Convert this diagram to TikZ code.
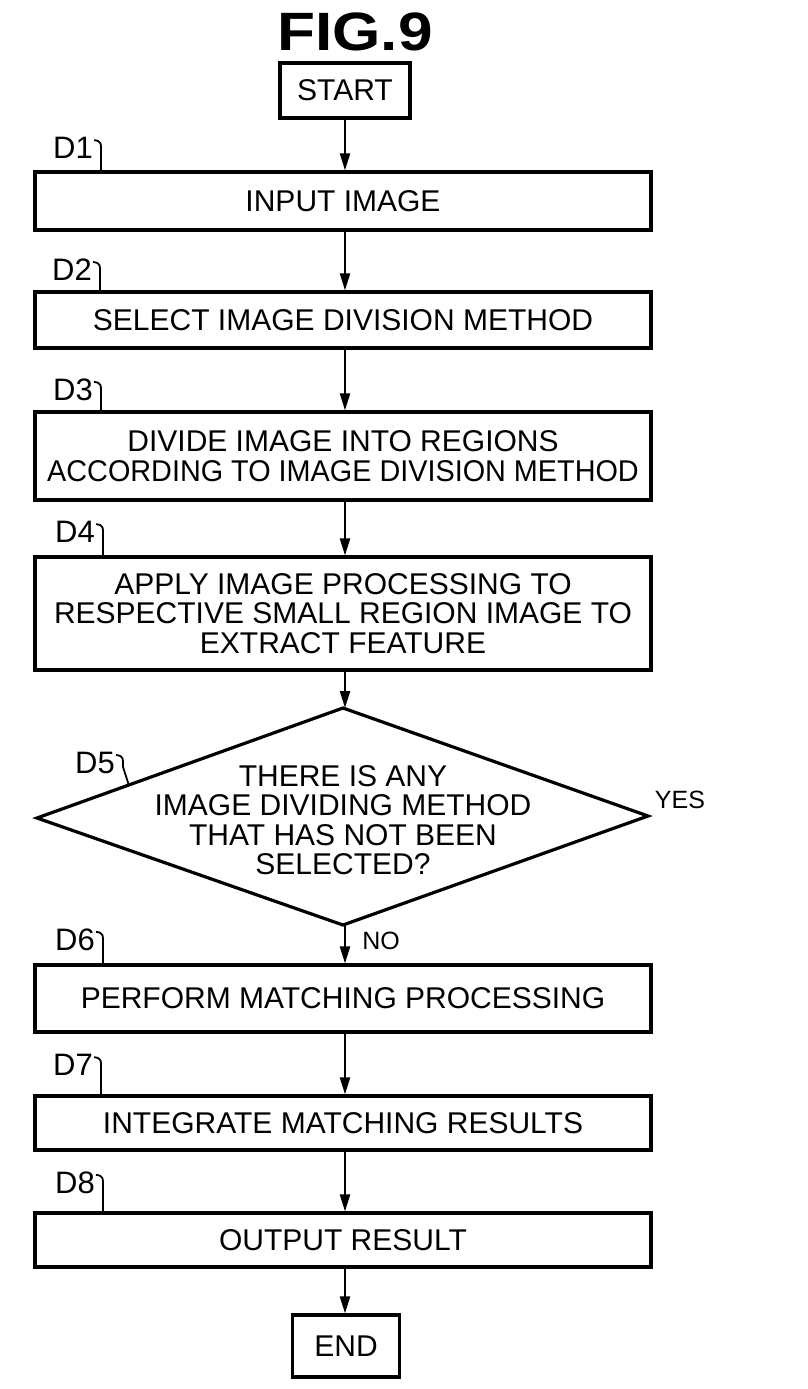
\documentclass[tikz,border=0pt]{standalone}
\usepackage{fontspec}
\setmainfont{Liberation Sans}
\usetikzlibrary{arrows.meta,calc}
\newcommand\dleader[2]{\draw[hook] ([xshift=1pt,yshift=-3pt]#1.north east) .. controls +(8pt,-1pt) and +(0pt,8pt) .. ([xshift=8pt,yshift=-4pt]#1.east) -- #2;}
\begin{document}
\begin{tikzpicture}[x=1pt,y=-1pt,
  box/.style={draw, line width=3.2pt, minimum width=616pt, inner sep=0pt, align=center, font=\fontsize{30}{29.5}\selectfont},
  term/.style={draw, line width=3.2pt, inner sep=0pt, font=\fontsize{30}{30}\selectfont},
  lbl/.style={anchor=west, inner sep=0pt, font=\fontsize{31}{31}\selectfont},
  flow/.style={line width=2.2pt, -{Triangle[length=17pt,width=10pt]}},
  hook/.style={line width=1.8pt},
  txt/.style={inner sep=0pt, align=center, font=\fontsize{30}{29.5}\selectfont},
  small/.style={inner sep=0pt, font=\fontsize{25}{25}\selectfont}]
\useasboundingbox (0,0) rectangle (807,1389);

\node[inner sep=0pt, font=\bfseries\fontsize{54}{54}\selectfont] (title) at (355,32) {\scalebox{1.15}[1]{FIG.9}};

\node[term, minimum width=130pt, minimum height=55pt] (start) at (345,90.5) {START};
\node[box, minimum height=58pt] (b1) at (343,201) {INPUT IMAGE};
\node[box, minimum height=56pt] (b2) at (343,320) {SELECT IMAGE DIVISION METHOD};
\node[box, minimum height=88pt] (b3) at (343,456) {DIVIDE IMAGE INTO REGIONS\\\scalebox{0.96}[1]{ACCORDING TO IMAGE DIVISION METHOD}};
\node[box, minimum height=113pt] (b4) at (343,613.5) {APPLY IMAGE PROCESSING TO\\RESPECTIVE SMALL REGION IMAGE TO\\EXTRACT FEATURE};

\coordinate (d5t) at (343,708);
\coordinate (d5l) at (37,818);
\coordinate (d5r) at (648,816);
\coordinate (d5b) at (343,925);
\draw[line width=3.2pt, line join=miter] (d5t) -- (d5r) -- (d5b) -- (d5l) -- cycle;
\node[txt] (d5) at (343,820) {THERE IS ANY\\IMAGE DIVIDING METHOD\\THAT HAS NOT BEEN\\SELECTED?};
\coordinate (h5) at ($(d5l)!0.3!(d5t)$);

\node[box, minimum height=67pt] (b6) at (343,998.5) {PERFORM MATCHING PROCESSING};
\node[box, minimum height=54pt] (b7) at (343,1123) {INTEGRATE MATCHING RESULTS};
\node[box, minimum height=54pt] (b8) at (343,1240) {OUTPUT RESULT};
\node[term, minimum width=107pt, minimum height=62pt] (end) at (346,1346) {END};

\node[small] (yes) at (680,800) {YES};
\node[small] (no) at (381,941) {NO};

\node[lbl] (l1) at (53,148) {D1};
\node[lbl] (l2) at (52,270) {D2};
\node[lbl] (l3) at (53,390) {D3};
\node[lbl] (l4) at (55,532) {D4};
\node[lbl] (l5) at (75,763) {D5};
\node[lbl] (l6) at (55,940) {D6};
\node[lbl] (l7) at (53,1065) {D7};
\node[lbl] (l8) at (55,1183) {D8};

\dleader{l1}{([xshift=8pt]l1.east |- b1.north)}
\dleader{l2}{([xshift=8pt]l2.east |- b2.north)}
\dleader{l3}{([xshift=8pt]l3.east |- b3.north)}
\dleader{l4}{([xshift=8pt]l4.east |- b4.north)}
\dleader{l5}{(h5)}
\dleader{l6}{([xshift=8pt]l6.east |- b6.north)}
\dleader{l7}{([xshift=8pt]l7.east |- b7.north)}
\dleader{l8}{([xshift=8pt]l8.east |- b8.north)}

\draw[flow] (start.south) -- (start.south |- b1.north);
\draw[flow] (b1.south -| start) -- (start |- b2.north);
\draw[flow] (b2.south -| start) -- (start |- b3.north);
\draw[flow] (b3.south -| start) -- (start |- b4.north);
\draw[flow] (b4.south -| start) -- (start |- d5t);
\draw[flow] (start |- d5b) -- (start |- b6.north);
\draw[flow] (b6.south -| start) -- (start |- b7.north);
\draw[flow] (b7.south -| start) -- (start |- b8.north);
\draw[flow] (b8.south -| start) -- (start |- end.north);
\end{tikzpicture}
\end{document}
